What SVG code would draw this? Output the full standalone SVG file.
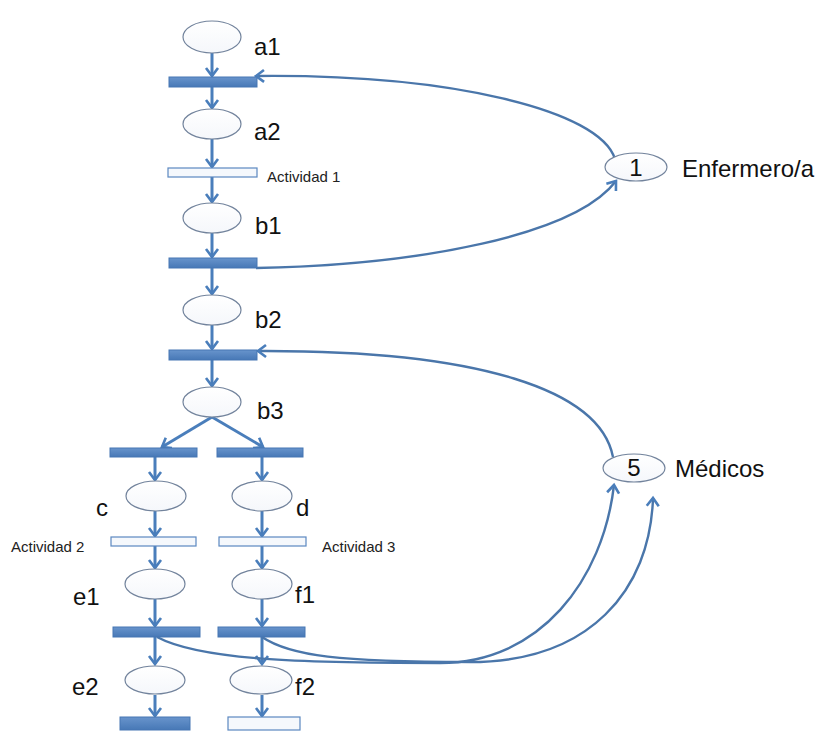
<svg xmlns="http://www.w3.org/2000/svg" width="826" height="731" viewBox="0 0 826 731">
  <style>
    .place { fill: url(#placeFill); stroke: #72839c; stroke-width: 1.2; }
    .bar { fill: url(#barFill); stroke: #4677b3; stroke-width: 1; }
    .bar-open { fill: #f5f8fc; stroke: #5b88c0; stroke-width: 1.2; }
    .arc { fill: none; stroke: #4a7ebb; stroke-width: 3; marker-end: url(#head); }
    .curve { fill: none; stroke: #4a76aa; stroke-width: 2.4; marker-end: url(#head); }
    .lbl { font-family: "Liberation Sans", Arial, sans-serif; font-size: 24px; fill: #111; }
    .small { font-family: "Liberation Sans", Arial, sans-serif; font-size: 15px; fill: #222; }
  </style>
  <defs>
    <linearGradient id="placeFill" x1="0" y1="0" x2="0" y2="1">
      <stop offset="0" stop-color="#ffffff"/>
      <stop offset="1" stop-color="#f5f7fb"/>
    </linearGradient>
    <linearGradient id="barFill" x1="0" y1="0" x2="0" y2="1">
      <stop offset="0" stop-color="#6894cc"/>
      <stop offset="1" stop-color="#4778b6"/>
    </linearGradient>
    <marker id="head" markerUnits="userSpaceOnUse" markerWidth="14" markerHeight="14" refX="8" refY="6" orient="auto" overflow="visible">
      <path d="M0,0 L8,6 L0,12" fill="none" stroke="#4a7ebb" stroke-width="2.6" stroke-linejoin="miter"/>
    </marker>
  </defs>

  <rect width="826" height="731" fill="#ffffff"/>

  <!-- connectors -->
  <g id="connectors">
    <!-- main column -->
    <path class="arc" d="M212,53 L212,76"/>
    <path class="arc" d="M212,87 L212,108"/>
    <path class="arc" d="M212,139 L212,167"/>
    <path class="arc" d="M212,177 L212,202"/>
    <path class="arc" d="M212,233 L212,257"/>
    <path class="arc" d="M212,268 L212,294"/>
    <path class="arc" d="M212,325 L212,349"/>
    <path class="arc" d="M212,360 L212,386"/>
    <!-- fork from b3 -->
    <path class="arc" d="M212,417 L162,447"/>
    <path class="arc" d="M212,417 L263,447"/>
    <!-- left branch -->
    <path class="arc" d="M155,457 L155,480"/>
    <path class="arc" d="M155,511 L155,536"/>
    <path class="arc" d="M155,546 L155,568"/>
    <path class="arc" d="M155,599 L155,626"/>
    <path class="arc" d="M155,637 L155,664"/>
    <path class="arc" d="M155,695 L155,716"/>
    <!-- right branch -->
    <path class="arc" d="M262,457 L262,480"/>
    <path class="arc" d="M262,511 L262,536"/>
    <path class="arc" d="M262,546 L262,568"/>
    <path class="arc" d="M262,599 L262,626"/>
    <path class="arc" d="M262,637 L262,664"/>
    <path class="arc" d="M262,695 L262,716"/>
    <!-- resource: Enfermero/a -->
    <path class="curve" d="M615,159 C600,110 450,74 256,76"/>
    <path class="curve" d="M256,268 C420,265 575,235 616,181"/>
    <!-- resource: Médicos -->
    <path class="curve" d="M613,457 C600,390 480,350 258,351"/>
    <path class="curve" d="M157,637 C200,660 300,663 440,663 C540,663 603,580 614,485"/>
    <path class="curve" d="M262,637 C290,656 340,662 470,662 C590,662 650,590 653,498"/>
  </g>

  <!-- main column -->
  <g id="a1"><ellipse class="place" cx="212" cy="37" rx="29" ry="16"/><text class="lbl" x="254" y="55">a1</text></g>
  <g id="t_a1"><rect class="bar" x="169" y="77" width="88" height="10"/></g>
  <g id="a2"><ellipse class="place" cx="212" cy="124" rx="29" ry="15"/><text class="lbl" x="254" y="140">a2</text></g>
  <g id="actividad1"><rect class="bar-open" x="168" y="168" width="89" height="9"/><text class="small" x="267" y="182">Actividad 1</text></g>
  <g id="b1"><ellipse class="place" cx="212" cy="218" rx="29" ry="15"/><text class="lbl" x="255" y="234">b1</text></g>
  <g id="t_b1"><rect class="bar" x="169" y="258" width="88" height="10"/></g>
  <g id="b2"><ellipse class="place" cx="212" cy="310" rx="29" ry="15"/><text class="lbl" x="255" y="328">b2</text></g>
  <g id="t_b2"><rect class="bar" x="169" y="350" width="88" height="10"/></g>
  <g id="b3"><ellipse class="place" cx="212" cy="402" rx="29" ry="15"/><text class="lbl" x="257" y="419">b3</text></g>

  <!-- fork transitions -->
  <g id="t_c"><rect class="bar" x="110" y="448" width="87" height="9"/></g>
  <g id="t_d"><rect class="bar" x="217" y="448" width="86" height="9"/></g>

  <!-- left branch -->
  <g id="c"><ellipse class="place" cx="156" cy="496" rx="30" ry="15"/><text class="lbl" x="96" y="516">c</text></g>
  <g id="actividad2"><rect class="bar-open" x="111" y="537" width="85" height="9"/><text class="small" x="11" y="552">Actividad 2</text></g>
  <g id="e1"><ellipse class="place" cx="155" cy="584" rx="30" ry="15"/><text class="lbl" x="73" y="605">e1</text></g>
  <g id="t_e1"><rect class="bar" x="113" y="627" width="87" height="10"/></g>
  <g id="e2"><ellipse class="place" cx="155" cy="680" rx="30" ry="14"/><text class="lbl" x="72" y="695">e2</text></g>
  <g id="t_e2"><rect class="bar" x="120" y="717" width="70" height="13"/></g>

  <!-- right branch -->
  <g id="d"><ellipse class="place" cx="262" cy="496" rx="30" ry="15"/><text class="lbl" x="296" y="516">d</text></g>
  <g id="actividad3"><rect class="bar-open" x="219" y="537" width="87" height="9"/><text class="small" x="322" y="552">Actividad 3</text></g>
  <g id="f1"><ellipse class="place" cx="262" cy="584" rx="30" ry="15"/><text class="lbl" x="295" y="603">f1</text></g>
  <g id="t_f1"><rect class="bar" x="218" y="627" width="87" height="10"/></g>
  <g id="f2"><ellipse class="place" cx="261" cy="680" rx="31" ry="14"/><text class="lbl" x="295" y="695">f2</text></g>
  <g id="t_f2"><rect class="bar-open" x="228" y="717" width="72" height="13"/></g>

  <!-- resources -->
  <g id="enfermero"><ellipse class="place" cx="636" cy="167" rx="31" ry="14"/><text class="lbl" x="636" y="176" text-anchor="middle" font-size="22">1</text><text class="lbl" x="682" y="177">Enfermero/a</text></g>
  <g id="medicos"><ellipse class="place" cx="634" cy="468" rx="31" ry="14"/><text class="lbl" x="634" y="476" text-anchor="middle" font-size="22">5</text><text class="lbl" x="675" y="477" font-size="25">Médicos</text></g>
</svg>
